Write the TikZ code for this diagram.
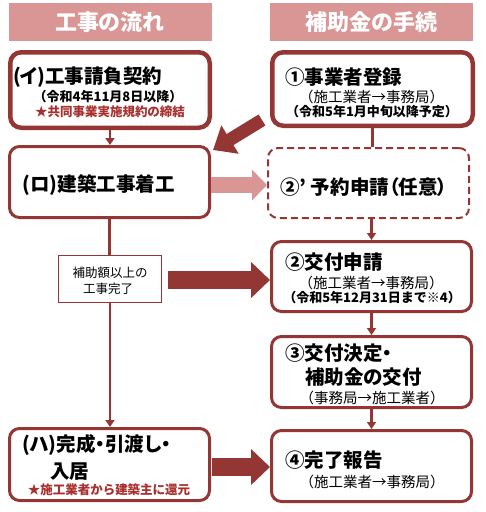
\documentclass[tikz,border=0pt]{standalone}
\usepackage{fontspec}
\setmainfont{Noto Sans CJK JP}
\usetikzlibrary{arrows.meta}
\definecolor{dred}{HTML}{943634}
\definecolor{pinkh}{HTML}{D99694}
\definecolor{redtxt}{HTML}{A8312F}
\tikzset{
  hdr/.style={fill=pinkh, draw=none, minimum width=203pt, minimum height=38pt, inner sep=0,
    text=white, font=\bfseries\fontsize{22}{24}\selectfont},
  boxthick/.style={draw=dred, line width=4.5pt, rounded corners=11pt, fill=white, inner sep=0},
  boxmid/.style={draw=dred, line width=3pt, rounded corners=10pt, fill=white, inner sep=0},
  boxdash/.style={draw=dred, line width=2pt, dash pattern=on 7pt off 4pt, rounded corners=10pt, fill=white, inner sep=0},
  boxthin/.style={draw=dred, line width=1pt, fill=white, inner sep=0},
  ttl/.style={anchor=west, inner sep=0, font=\bfseries\fontsize{19.5}{22}\selectfont\addfontfeatures{RawFeature=+palt}},
  subr/.style={inner sep=0, font=\fontsize{14.5}{16}\selectfont},
  subb/.style={inner sep=0, font=\bfseries\fontsize{13}{14}\selectfont},
  redb/.style={inner sep=0, text=redtxt, font=\bfseries\fontsize{12.5}{14}\selectfont},
  smt/.style={inner sep=0, font=\fontsize{12.5}{14}\selectfont},
  conn/.style={draw=dred, line width=2.5pt, -{Triangle[width=9pt,length=7pt]}},
  plain/.style={draw=dred, line width=2.5pt},
  bigarrow/.style={draw=dred, line width=18pt, -{Triangle[width=35pt,length=19pt]}},
  lightarrow/.style={draw=pinkh, line width=16pt, -{Triangle[width=30pt,length=15pt]}},
  diagarrow/.style={draw=dred, line width=13pt, -{Triangle[width=32pt,length=20pt]}},
}
\begin{document}
\begin{tikzpicture}[x=1pt,y=-1pt]
\useasboundingbox (0,0) rectangle (486,512);
% headers
\node[hdr] (h1) at (110,22) {工事の流れ};
\node[hdr] (h2) at (371.5,22) {補助金の手続};
% boxes
\node[boxthick, minimum width=199.5pt, minimum height=75.5pt] (i) at (110,90) {};
\node[boxthick, minimum width=200.5pt, minimum height=73.5pt] (one) at (372.5,89) {};
\node[boxmid, minimum width=200pt, minimum height=71pt] (ro) at (109.5,182) {};
\node[boxdash, minimum width=201pt, minimum height=70pt] (twop) at (368.5,183) {};
\node[boxmid, minimum width=200pt, minimum height=70pt] (two) at (371.5,276.5) {};
\node[boxmid, minimum width=200pt, minimum height=71pt] (three) at (371.5,372) {};
\node[boxmid, minimum width=200pt, minimum height=71pt] (four) at (371.5,466) {};
\node[boxmid, minimum width=200pt, minimum height=72pt] (ha) at (109.5,464.5) {};
\node[boxthin, minimum width=103pt, minimum height=47pt] (sm) at (110,279) {};
% texts
\node[ttl] (ti1) at (13,77) {(\kern-0.5ptイ\kern-0.5pt)工事請負契約};
\node[subb] (ti2) at (108,97) {（令和4年11月8日以降）};
\node[redb] (ti3) at (110,112) {★共同事業実施規約の締結};
\node[ttl] (to1) at (285,77) {①事業者登録};
\node[subr] (to2) at (371.5,97) {（施工業者→事務局）};
\node[subb] (to3) at (372,112) {（令和5年1月中旬以降予定）};
\node[ttl] (tr1) at (22,185) {(ロ)建築工事着工};
\node[ttl] (tp1) at (280,187) {②’ 予約申請（任意）};
\node[smt] (ts1) at (110,273) {補助額以上の};
\node[smt] (ts2) at (108,289) {工事完了};
\node[ttl] (tt1) at (285,262) {②交付申請};
\node[subr] (tt2) at (371,283) {（施工業者→事務局）};
\node[subb] (tt3) at (372,298) {（令和5年12月31日まで※4）};
\node[ttl] (th1) at (285,353) {③交付決定・};
\node[ttl] (th2) at (305,377) {補助金の交付};
\node[subr] (th3) at (372,398) {（事務局→施工業者）};
\node[ttl] (tc1) at (22,445) {(ハ)完成・引渡し・};
\node[ttl] (tc2) at (50,472) {入居};
\node[redb] (tc3) at (109,490) {★施工業者から建築主に還元};
\node[ttl] (tf1) at (285,460) {④完了報告};
\node[subr] (tf2) at (372,482) {（施工業者→事務局）};
% connectors
\draw[conn] (i.south) -- (i.south |- ro.north);
\draw[plain] (one.south) -- (one.south |- twop.north);
\draw[conn] (twop.south -| two.north) -- (two.north);
\draw[conn] (two.south) -- (three.north);
\draw[conn] (three.south) -- (four.north);
\draw[plain] (ro.south) -- (ro.south |- sm.north);
\draw[conn] (sm.south) -- (sm.south |- ha.north);
% big arrows
\draw[lightarrow] ([yshift=-3pt]ro.east) -- ([yshift=-3pt]ro.east -| twop.west);
\draw[bigarrow] ([xshift=6pt,yshift=-1pt]sm.east) -- ([yshift=-1pt]sm.east -| two.west);
\draw[bigarrow] ([xshift=1pt,yshift=-2.5pt]ha.east) -- ([yshift=-2.5pt]ha.east -| four.west);
\coordinate (dtail) at ([xshift=-8pt,yshift=8pt]one.south west);
\coordinate (dtip) at ([xshift=2pt,yshift=-5pt]ro.north east);
\draw[diagarrow] (dtail) -- (dtip);
\end{tikzpicture}
\end{document}
